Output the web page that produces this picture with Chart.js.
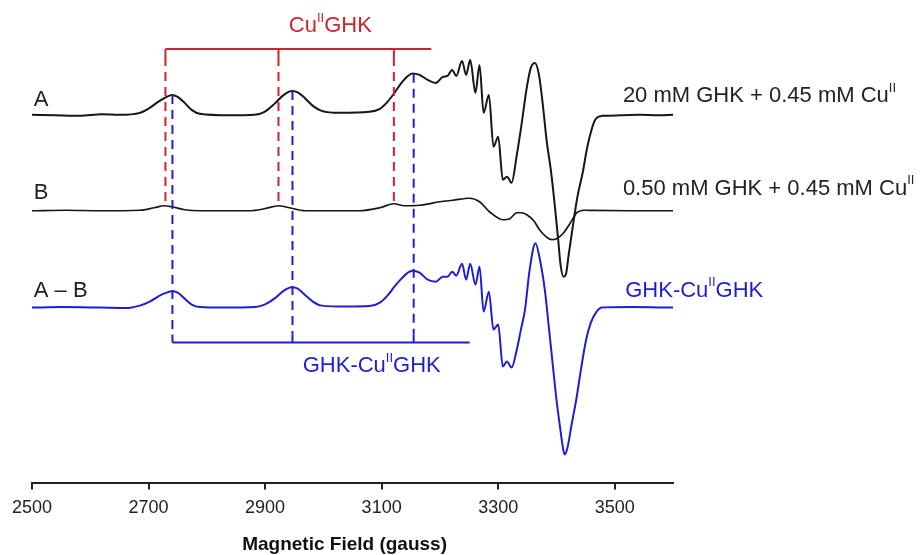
<!DOCTYPE html>
<html>
<head>
<meta charset="utf-8">
<script src="https://cdn.jsdelivr.net/npm/chart.js@4.4.1/dist/chart.umd.min.js"></script>
<style>
  html, body { margin: 0; padding: 0; background: #ffffff; }
  #wrap { width: 922px; height: 555px; }
</style>
</head>
<body>
<div id="wrap"><canvas id="c" width="922" height="555"></canvas></div>
<script>
// ---- Data (field in gauss, signal in arbitrary units, up = positive) ----
const tickFields = [2500, 2700, 2900, 3100, 3300, 3500];

const fieldA = [2500,2540,2582,2620,2650,2685,2702,2719,2731,2740,2750,2762,2774,2788,2839,2882,2899,2916,2930,2942,2947,2956,2968,2982,2997,3028,3079,3097,3110,3122,3134,3145,3153,3165,3179,3193,3205,3213,3221,3228,3238,3245,3252,3261,3268,3275,3284,3292,3300,3308,3315,3323,3332,3340,3349,3356,3363,3370,3377,3383,3391,3397,3403,3407,3412,3416,3421,3428,3436,3445,3452,3457,3464,3469,3478,3509,3543,3575,3600];
const signalA = [0,-0.5,-1,0.5,0,2,7,14,18,20,18,12,5,1,-0.5,0,3,11,19,23.5,24,22.5,17,9,4,2,3,6,13,22,32,39,41.5,40,35,32,38,39,45,39,54,40,55,22,50,2,20,-32,-22,-65,-62,-68,-40,-10,27,47,52,40,8,-25,-58,-90,-125,-150,-162,-160,-140,-112,-82,-58,-35,-22,-8,-3,-1,-0.5,0,-0.5,0];

const fieldB = [2500,2560,2616,2685,2710,2727,2740,2762,2788,2873,2899,2923,2942,2968,3062,3097,3121,3139,3165,3200,3222,3251,3268,3285,3308,3320,3332,3340,3349,3361,3371,3382,3392,3400,3411,3423,3435,3448,3461,3530,3600];
const signalB = [0,0.5,0,0.5,3,5,4,1,0,0,2,5,3,0,0,3,7,5,5.5,9,10.5,12.5,9,-1,-9,-8,-2,-2,-4,-10,-19,-26,-29,-28,-23,-13,-2,0.5,0.3,0,0];

const fieldDiff = [2500,2550,2616,2660,2685,2702,2719,2731,2740,2750,2762,2774,2788,2830,2882,2899,2916,2930,2942,2947,2956,2968,2982,2997,3040,3079,3097,3110,3122,3134,3145,3153,3165,3179,3193,3205,3213,3221,3228,3238,3245,3252,3261,3268,3275,3284,3292,3300,3308,3315,3323,3332,3339,3346,3354,3364,3371,3380,3387,3394,3400,3406,3411,3414,3419,3426,3434,3442,3451,3459,3469,3478,3530,3600];
const signalDiff = [0,0.5,0,-0.5,2,6,12,15,16.3,15,9,3,0.5,0,0.5,3,9,16,20,20.5,19,13,6,2,1,1.5,5,12,21,29,35,37,35,28,26,31,31,36,32,44,28,44,23,41,-4,16,-22,-17,-59,-54,-60,-42,-22,-2,38,64.5,50,18,-20,-59,-92,-119,-140,-147,-140,-117,-92,-62,-32,-15,-4,0,0.5,0];

// hyperfine line markers (gauss)
const cuGHKLines = [2729, 2923, 3121];
const ghkCuGHKLines = [2741, 2947, 3155];
const cuGHKBracketEnd = 3185;
const ghkCuGHKBracketEnd = 3251;

// ---- styling / layout ----
const RED = '#d2222c';
const BLUE = '#1e1ed2';
const BLACK = '#161616';
const FONT = '"Liberation Sans", Arial, Helvetica, sans-serif';
const offA = 369, offB = 273, offDiff = 176;   // vertical stacking of traces (y units)

function series(fields, signals, off) {
  return fields.map((f, i) => ({ x: f, y: signals[i] + off }));
}
function interp(fields, signals, f) {
  for (let i = 0; i < fields.length - 1; i++) {
    if (f >= fields[i] && f <= fields[i + 1]) {
      const t = (f - fields[i]) / (fields[i + 1] - fields[i]);
      return signals[i] + t * (signals[i + 1] - signals[i]);
    }
  }
  return 0;
}
function richText(ctx, parts, x, y, align, color, size) {
  const subSize = Math.round(size * 0.6);
  let w = 0;
  parts.forEach(p => {
    ctx.font = (p.sup ? subSize : size) + 'px ' + FONT;
    p.w = ctx.measureText(p.t).width;
    w += p.w;
  });
  let cx = align === 'center' ? x - w / 2 : x;
  ctx.fillStyle = color;
  ctx.textBaseline = 'middle';
  ctx.textAlign = 'left';
  parts.forEach(p => {
    ctx.font = (p.sup ? subSize : size) + 'px ' + FONT;
    ctx.fillText(p.t, cx, p.sup ? y - size * 0.36 : y);
    cx += p.w;
  });
}

const annotations = {
  id: 'annotations',
  afterDatasetsDraw(chart) {
    const { ctx, scales: { x, y } } = chart;
    ctx.save();
    // red bracket (CuIIGHK)
    const redY = y.getPixelForValue(435);
    ctx.strokeStyle = RED;
    ctx.lineWidth = 2;
    ctx.setLineDash([]);
    ctx.beginPath();
    ctx.moveTo(x.getPixelForValue(cuGHKLines[0]), redY);
    ctx.lineTo(x.getPixelForValue(cuGHKBracketEnd), redY);
    cuGHKLines.forEach(f => {
      const px = x.getPixelForValue(f);
      ctx.moveTo(px, redY); ctx.lineTo(px, redY + 8);
    });
    ctx.stroke();
    ctx.setLineDash([9, 6]);
    cuGHKLines.forEach(f => {
      const px = x.getPixelForValue(f);
      const bottom = y.getPixelForValue(offB + interp(fieldB, signalB, f));
      ctx.beginPath();
      ctx.moveTo(px, redY + 8); ctx.lineTo(px, bottom);
      ctx.stroke();
    });
    // blue bracket (GHK-CuIIGHK)
    const blueY = y.getPixelForValue(141);
    ctx.strokeStyle = BLUE;
    ctx.setLineDash([]);
    ctx.beginPath();
    ctx.moveTo(x.getPixelForValue(ghkCuGHKLines[0]), blueY);
    ctx.lineTo(x.getPixelForValue(ghkCuGHKBracketEnd), blueY);
    ghkCuGHKLines.forEach(f => {
      const px = x.getPixelForValue(f);
      ctx.moveTo(px, blueY); ctx.lineTo(px, blueY - 8);
    });
    ctx.stroke();
    ctx.setLineDash([9, 6]);
    ghkCuGHKLines.forEach(f => {
      const px = x.getPixelForValue(f);
      const top = y.getPixelForValue(offA + interp(fieldA, signalA, f));
      ctx.beginPath();
      ctx.moveTo(px, top); ctx.lineTo(px, blueY - 8);
      ctx.stroke();
    });
    ctx.setLineDash([]);

    const S = 22;
    // titles of brackets
    richText(ctx, [{t:'Cu'},{t:'II',sup:true},{t:'GHK'}], x.getPixelForValue(3012), y.getPixelForValue(458), 'center', RED, S);
    richText(ctx, [{t:'GHK-Cu'},{t:'II',sup:true},{t:'GHK'}], x.getPixelForValue(3083), y.getPixelForValue(117.5), 'center', BLUE, S);
    // trace names (left)
    richText(ctx, [{t:'A'}], x.getPixelForValue(2503), y.getPixelForValue(383.5), 'left', '#222', S);
    richText(ctx, [{t:'B'}], x.getPixelForValue(2503), y.getPixelForValue(291), 'left', '#222', S);
    richText(ctx, [{t:'A \u2013 B'}], x.getPixelForValue(2503), y.getPixelForValue(193), 'left', '#222', S);
    // trace descriptions (right)
    richText(ctx, [{t:'20 mM GHK + 0.45 mM Cu'},{t:'II',sup:true}], x.getPixelForValue(3514), y.getPixelForValue(388), 'left', '#222', S);
    richText(ctx, [{t:'0.50 mM GHK + 0.45 mM Cu'},{t:'II',sup:true}], x.getPixelForValue(3514), y.getPixelForValue(295), 'left', '#222', S);
    richText(ctx, [{t:'GHK-Cu'},{t:'II',sup:true},{t:'GHK'}], x.getPixelForValue(3518), y.getPixelForValue(193), 'left', BLUE, S);
    ctx.restore();
  }
};

const lineOpts = { pointRadius: 0, fill: false, cubicInterpolationMode: 'monotone', borderJoinStyle: 'round', borderCapStyle: 'round' };

new Chart(document.getElementById('c'), {
  type: 'line',
  data: {
    datasets: [
      Object.assign({ label: 'A', data: series(fieldA, signalA, offA), borderColor: BLACK, borderWidth: 2 }, lineOpts),
      Object.assign({ label: 'B', data: series(fieldB, signalB, offB), borderColor: BLACK, borderWidth: 1.7 }, lineOpts),
      Object.assign({ label: 'A - B', data: series(fieldDiff, signalDiff, offDiff), borderColor: BLUE, borderWidth: 2 }, lineOpts)
    ]
  },
  options: {
    responsive: false,
    animation: false,
    devicePixelRatio: 1,
    layout: { padding: { left: 32, right: 249, top: 0, bottom: 1 } },
    plugins: { legend: { display: false }, tooltip: { enabled: false } },
    scales: {
      x: {
        type: 'linear',
        min: 2500,
        max: 3600,
        afterBuildTicks: (scale) => { scale.ticks = tickFields.map(v => ({ value: v })); },
        ticks: { color: '#222', font: { family: FONT, size: 18 }, padding: 8, maxRotation: 0, autoSkip: false, callback: (v) => String(v) },
        grid: { drawOnChartArea: false, drawTicks: true, tickLength: 6, color: '#222', lineWidth: 2 },
        border: { display: true, color: '#222', width: 2 },
        title: { display: true, text: 'Magnetic Field (gauss)\u00a0\u00a0\u00a0', color: '#111', font: { family: FONT, size: 19, weight: 'bold', lineHeight: 1.0 }, padding: { top: 8, bottom: 0 } }
      },
      y: { display: false, min: 0, max: 484 }
    }
  },
  plugins: [annotations]
});
</script>
</body>
</html>
